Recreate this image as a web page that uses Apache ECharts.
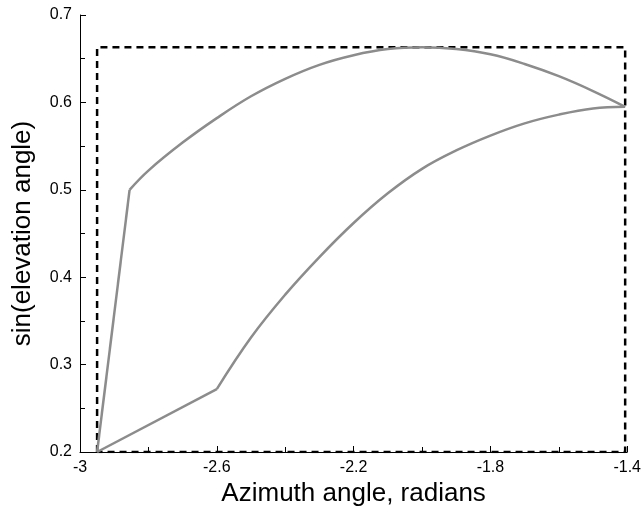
<!DOCTYPE html>
<html>
<head>
<meta charset="utf-8">
<script src="https://cdn.jsdelivr.net/npm/echarts@6/dist/echarts.min.js"></script>
<style>
  html, body { margin: 0; padding: 0; background: #fff; }
  #chart { width: 644px; height: 513px; }
</style>
</head>
<body>
<div id="chart"></div>
<script>
// upper branch: straight rise, then the arc (azimuth, sin elevation)
var upperRiseX = [-2.95, -2.855];
var upperRiseY = [0.200, 0.500];
var upperArcX = [-2.855, -2.8, -2.7, -2.6, -2.5, -2.4, -2.3, -2.2, -2.1, -2.0, -1.9, -1.8, -1.7, -1.6, -1.5, -1.406];
var upperArcY = [0.500, 0.522, 0.554, 0.582, 0.607, 0.627, 0.643, 0.654, 0.661, 0.663, 0.661, 0.655, 0.644, 0.630, 0.613, 0.595];

// lower branch: straight segment, then the curve
var lowerRiseX = [-2.95, -2.6];
var lowerRiseY = [0.200, 0.272];
var lowerArcX = [-2.6, -2.5, -2.4, -2.3, -2.2, -2.1, -2.0, -1.9, -1.8, -1.7, -1.6, -1.5, -1.406];
var lowerArcY = [0.272, 0.331, 0.380, 0.423, 0.462, 0.496, 0.524, 0.545, 0.562, 0.576, 0.586, 0.593, 0.595];

// dashed bounding box corners
var boxX = [-2.95, -2.95, -1.406, -1.406, -2.95];
var boxY = [0.200, 0.663, 0.663, 0.200, 0.200];

function pairs(xs, ys) {
  var out = [];
  for (var i = 0; i < xs.length; i++) out.push([xs[i], ys[i]]);
  return out;
}

var FONT = 'Liberation Sans, Arial, sans-serif';
var curveStyle = { color: '#8c8c8c', width: 2.5 };

function curve(xs, ys, smooth) {
  return {
    type: 'line', data: pairs(xs, ys), symbol: 'none', z: 2,
    smooth: smooth ? 0.4 : false,
    lineStyle: curveStyle
  };
}

function fmt(v) { return String(Math.round(v * 10) / 10); }

var chart = echarts.init(document.getElementById('chart'));

var option = {
  animation: false,
  backgroundColor: '#fff',
  grid: { left: 80, right: 14, top: 15, bottom: 61 },
  xAxis: {
    type: 'value',
    min: -3, max: -1.4, interval: 0.4,
    name: 'Azimuth angle, radians',
    nameLocation: 'middle',
    nameGap: 25,
    nameTextStyle: { fontSize: 26, fontFamily: FONT, color: '#000' },
    axisLine: { show: true, onZero: false, lineStyle: { color: '#000', width: 1 } },
    axisTick: { show: true, inside: true, length: 6, lineStyle: { color: '#000' } },
    minorTick: { show: true, splitNumber: 2, length: 5, lineStyle: { color: '#000' } },
    axisLabel: { fontSize: 16, margin: 8, fontFamily: FONT, color: '#000', formatter: fmt },
    splitLine: { show: false }
  },
  yAxis: {
    type: 'value',
    min: 0.2, max: 0.7, interval: 0.1,
    name: 'sin(elevation angle)',
    nameLocation: 'middle',
    nameGap: 44,
    nameTextStyle: { fontSize: 26, fontFamily: FONT, color: '#000' },
    axisLine: { show: true, onZero: false, lineStyle: { color: '#000', width: 1 } },
    axisTick: { show: true, inside: true, length: 6, lineStyle: { color: '#000' } },
    minorTick: { show: true, splitNumber: 2, length: 5, lineStyle: { color: '#000' } },
    axisLabel: { fontSize: 16, margin: 8, fontFamily: FONT, color: '#000', formatter: fmt },
    splitLine: { show: false }
  },
  series: [
    {
      type: 'line', data: pairs(boxX, boxY), symbol: 'none', z: 1,
      lineStyle: { color: '#000', width: 2.5, type: [7, 5] }
    },
    curve(upperRiseX, upperRiseY, false),
    curve(upperArcX, upperArcY, true),
    curve(lowerRiseX, lowerRiseY, false),
    curve(lowerArcX, lowerArcY, true)
  ]
};

chart.setOption(option);
</script>
</body>
</html>
